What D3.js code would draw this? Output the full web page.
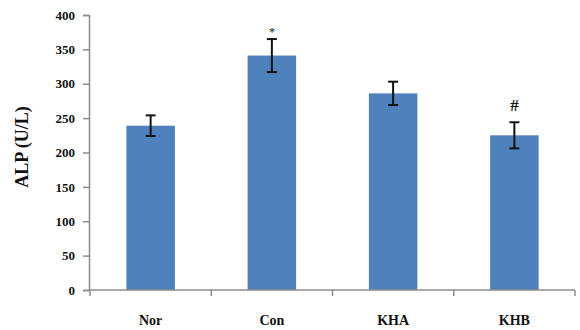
<!DOCTYPE html>
<html>
<head>
<meta charset="utf-8">
<script src="https://cdn.jsdelivr.net/npm/d3@7"></script>
<style>
  html, body { margin: 0; padding: 0; background: #fff; }
  svg { display: block; }
</style>
</head>
<body>
<svg id="chart" width="580" height="330"></svg>
<script>
// ALP activity per group (U/L), mean ± error
const groups = ["Nor", "Con", "KHA", "KHB"];
const means = [239, 341, 286, 225];
const errors = [15, 24, 17, 19];
const marks = ["", "*", "", "#"];
const yTicks = [0, 50, 100, 150, 200, 250, 300, 350, 400];

const FONT = "'Liberation Serif', 'Times New Roman', 'DejaVu Serif', serif";
const svg = d3.select("#chart");
const margin = { left: 89, right: 5, top: 15, bottom: 40 };
const W = 580;

const x = d3.scaleBand()
  .domain(groups)
  .range([margin.left + 1, W - margin.right])
  .paddingInner(0.6)
  .paddingOuter(0.3);

const y = d3.scaleLinear()
  .domain([0, 400])
  .range([290, 15]);

const axisColor = "#8c8c8c";

// y axis
const yAxis = svg.append("g")
  .attr("transform", `translate(${margin.left},0)`)
  .call(d3.axisLeft(y).tickValues(yTicks).tickSize(6).tickPadding(8).tickFormat(d3.format("d")));
yAxis.select(".domain").attr("stroke", axisColor).attr("stroke-width", 1.5);
yAxis.selectAll(".tick line").attr("stroke", axisColor).attr("stroke-width", 1.5);
yAxis.selectAll(".tick text")
  .style("font-family", FONT).style("font-weight", "bold").style("font-size", "13px")
  .attr("fill", "#111");

// bars
svg.append("g").selectAll("rect")
  .data(groups)
  .join("rect")
  .attr("x", (d) => x(d))
  .attr("width", x.bandwidth())
  .attr("y", (d, i) => y(means[i]))
  .attr("height", (d, i) => y(0) - y(means[i]))
  .attr("fill", "#4f81bd");

// x axis with ticks between the category bands
const step = x.step();
const edges = d3.range(groups.length + 1).map(i => x(groups[0]) - x.paddingInner() * step / 2 + i * step);
const xAxisG = svg.append("g");
xAxisG.append("line")
  .attr("x1", margin.left).attr("x2", W - margin.right)
  .attr("y1", y(0)).attr("y2", y(0))
  .attr("stroke", axisColor).attr("stroke-width", 1.5);
xAxisG.selectAll(".etick")
  .data(edges)
  .join("line")
  .attr("class", "etick")
  .attr("x1", d => d).attr("x2", d => d)
  .attr("y1", y(0)).attr("y2", y(0) + 6)
  .attr("stroke", axisColor).attr("stroke-width", 1.5);
xAxisG.selectAll("text")
  .data(groups)
  .join("text")
  .attr("x", d => x(d) + x.bandwidth() / 2)
  .attr("y", 325)
  .attr("text-anchor", "middle")
  .style("font-family", FONT).style("font-weight", "bold").style("font-size", "14px")
  .attr("fill", "#111")
  .text(d => d);

// error bars
const eb = svg.append("g").attr("stroke", "#111").attr("stroke-width", 2);
groups.forEach((g, i) => {
  const cx = x(g) + x.bandwidth() / 2;
  const top = y(means[i] + errors[i]);
  const bot = y(means[i] - errors[i]);
  eb.append("line").attr("x1", cx).attr("x2", cx).attr("y1", top).attr("y2", bot);
  eb.append("line").attr("x1", cx - 5).attr("x2", cx + 5).attr("y1", top).attr("y2", top);
  eb.append("line").attr("x1", cx - 5).attr("x2", cx + 5).attr("y1", bot).attr("y2", bot);
});

// significance marks
svg.append("g").selectAll("text")
  .data(groups)
  .join("text")
  .attr("x", d => x(d) + x.bandwidth() / 2)
  .attr("y", (d, i) => y(means[i] + errors[i]) - (marks[i] === "*" ? 3 : 11))
  .attr("text-anchor", "middle")
  .style("font-family", FONT)
  .style("font-size", (d, i) => marks[i] === "*" ? "12px" : "17px")
  .style("font-weight", (d, i) => marks[i] === "*" ? "normal" : "bold")
  .attr("fill", "#111")
  .text((d, i) => marks[i]);

// y axis title
svg.append("text")
  .attr("transform", `translate(28,147) rotate(-90)`)
  .attr("text-anchor", "middle")
  .style("font-family", FONT).style("font-weight", "bold").style("font-size", "18px")
  .attr("fill", "#111")
  .text("ALP (U/L)");
</script>
</body>
</html>
